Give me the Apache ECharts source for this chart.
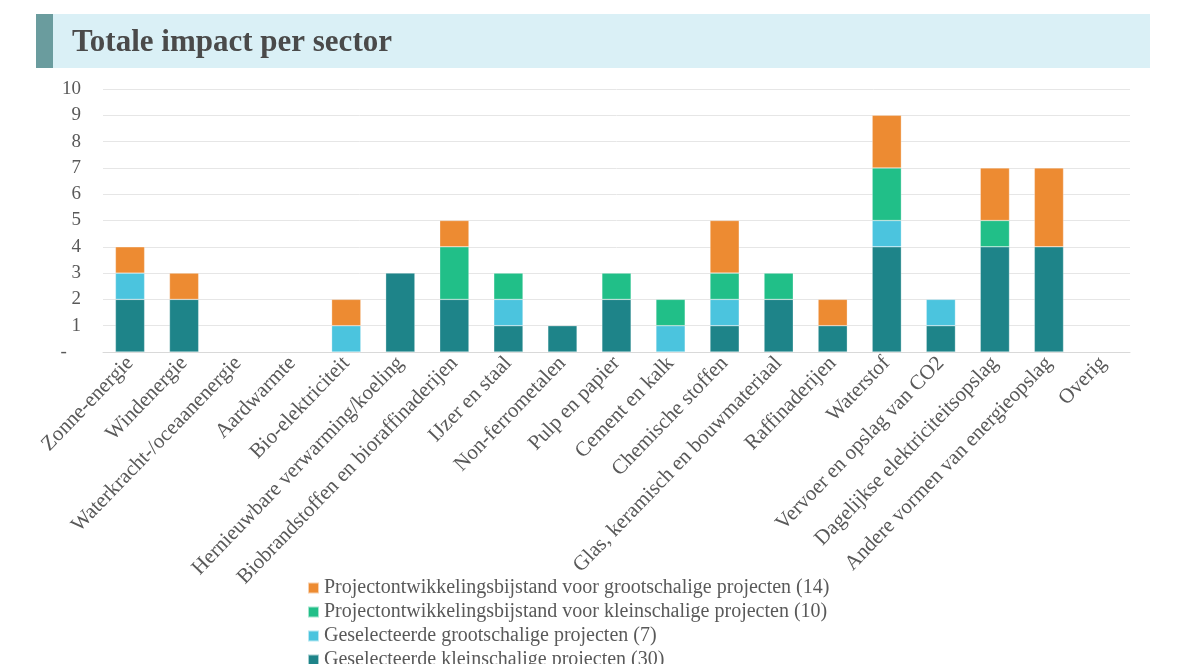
<!DOCTYPE html>
<html>
<head>
<meta charset="utf-8">
<script src="https://cdn.jsdelivr.net/npm/echarts@6/dist/echarts.min.js"></script>
<style>
  html, body { margin: 0; padding: 0; background: #fff; }
  #main { width: 1200px; height: 664px; }
</style>
</head>
<body>
<div id="main"></div>
<script>
// sectoren
var categories = ['Zonne-energie', 'Windenergie', 'Waterkracht-/oceaanenergie', 'Aardwarmte',
  'Bio-elektriciteit', 'Hernieuwbare verwarming/koeling', 'Biobrandstoffen en bioraffinaderijen',
  'IJzer en staal', 'Non-ferrometalen', 'Pulp en papier', 'Cement en kalk', 'Chemische stoffen',
  'Glas, keramisch en bouwmateriaal', 'Raffinaderijen', 'Waterstof', 'Vervoer en opslag van CO2',
  'Dagelijkse elektriciteitsopslag', 'Andere vormen van energieopslag', 'Overig'];

// aantallen per reeks (van onder naar boven gestapeld)
var kleinGeselecteerd = [2, 2, 0, 0, 0, 3, 2, 1, 1, 2, 0, 1, 2, 1, 4, 1, 4, 4, 0];
var grootGeselecteerd = [1, 0, 0, 0, 1, 0, 0, 1, 0, 0, 1, 1, 0, 0, 1, 1, 0, 0, 0];
var pobKlein          = [0, 0, 0, 0, 0, 0, 2, 1, 0, 1, 1, 1, 1, 0, 2, 0, 1, 0, 0];
var pobGroot          = [1, 1, 0, 0, 1, 0, 1, 0, 0, 0, 0, 2, 0, 1, 2, 0, 2, 3, 0];

var seriesNames = [
  'Geselecteerde kleinschalige projecten (30)',
  'Geselecteerde grootschalige projecten (7)',
  'Projectontwikkelingsbijstand voor kleinschalige projecten (10)',
  'Projectontwikkelingsbijstand voor grootschalige projecten (14)'
];
var seriesData = [kleinGeselecteerd, grootGeselecteerd, pobKlein, pobGroot];
var colors = ['#1E8489', '#4BC4DE', '#21BF88', '#ED8B32'];

var font = '"Liberation Serif", "Times New Roman", serif';

var myChart = echarts.init(document.getElementById('main'));

var series = seriesNames.map(function (name, i) {
  return {
    name: name,
    type: 'bar',
    stack: 'totaal',
    barWidth: '54%',
    itemStyle: { color: colors[i], borderColor: 'rgba(255,255,255,0.6)', borderWidth: 0.5 },
    // nullen niet tekenen
    data: seriesData[i].map(function (v) { return v === 0 ? '-' : v; })
  };
});

var option = {
  animation: false,
  textStyle: { fontFamily: font },
  graphic: [
    { type: 'rect', left: 36, top: 14, shape: { width: 1114, height: 54 }, style: { fill: '#DAF0F6' } },
    { type: 'rect', left: 36, top: 14, shape: { width: 17, height: 54 }, style: { fill: '#6A9C9E' } },
    {
      type: 'text', x: 72, y: 43,
      style: { text: 'Totale impact per sector', fill: '#4a4a4a', font: 'bold 31px ' + font, verticalAlign: 'middle' }
    }
  ],
  grid: { left: 103, right: 70, top: 89, bottom: 312 },
  legend: {
    orient: 'vertical',
    left: 302,
    top: 573,
    height: 200,
    itemWidth: 11,
    itemHeight: 11,
    itemGap: 4,
    icon: 'rect',
    data: seriesNames.slice().reverse(),
    textStyle: { fontFamily: font, fontSize: 20, color: '#595959', lineHeight: 20 }
  },
  xAxis: {
    type: 'category',
    data: categories,
    axisTick: { show: false },
    axisLine: { lineStyle: { color: '#d9d9d9' } },
    axisLabel: {
      interval: 0,
      rotate: 46,
      margin: 8,
      fontFamily: font,
      fontSize: 21,
      color: '#595959'
    }
  },
  yAxis: {
    type: 'value',
    min: 0,
    max: 10,
    interval: 1,
    axisLine: { show: false },
    axisTick: { show: false },
    splitLine: { lineStyle: { color: '#e6e6e6' } },
    axisLabel: {
      margin: 22,
      fontFamily: font,
      fontSize: 19,
      color: '#595959',
      formatter: function (v) { return v === 0 ? '-   ' : v; }
    }
  },
  series: series
};

myChart.setOption(option);
</script>
</body>
</html>
